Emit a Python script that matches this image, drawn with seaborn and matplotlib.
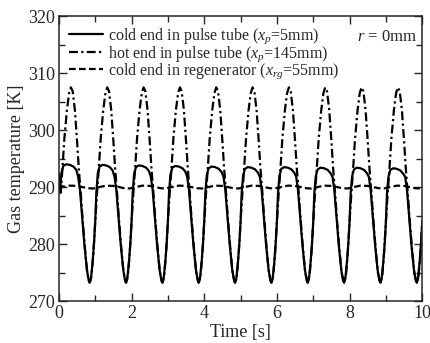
import numpy as np
import pandas as pd
import matplotlib
matplotlib.use("Agg")
import matplotlib.pyplot as plt
import seaborn as sns

# ---- data ----
# one-cycle profiles (phase within each 1 s cycle)
phase_cold = [0.00, 0.03, 0.07, 0.12, 0.20, 0.30, 0.40, 0.48, 0.53, 0.58, 0.63, 0.70, 0.77, 0.82, 0.85, 0.88, 0.93, 0.97]
temp_cold = [284.0, 289.0, 292.5, 293.7, 294.0, 293.9, 293.6, 293.0, 291.8, 289.5, 285.5, 280.0, 275.5, 273.6, 273.2, 273.8, 277.0, 280.5]
cold_peaks = [294.0, 293.9, 293.8, 293.7, 293.6, 293.5, 293.5, 293.4, 293.4, 293.3]

phase_hot = [0.00, 0.05, 0.10, 0.15, 0.22, 0.28, 0.33, 0.38, 0.44, 0.50, 0.55, 0.60, 0.65, 0.72, 0.78, 0.84, 0.90, 0.95]
temp_hot = [284.0, 289.0, 293.5, 298.5, 303.5, 306.5, 307.5, 306.8, 303.5, 298.0, 293.0, 289.0, 284.5, 279.0, 275.0, 273.3, 274.5, 278.5]

phase_reg = [0.00, 0.15, 0.30, 0.50, 0.65, 0.80, 0.95]
temp_reg = [289.85, 290.05, 290.25, 290.2, 290.0, 289.8, 289.75]

start_cold, start_hot, start_reg = 291.0, 292.5, 290.3
n_cycles = 10

labels = ["cold end in pulse tube ($x_p$=5mm)",
          "hot end in pulse tube ($x_p$=145mm)",
          "cold end in regenerator ($x_{rg}$=55mm)"]


def build(phases, temps, start, peaks=None):
    t, y = [], []
    for n in range(n_cycles):
        for p, v in zip(phases, temps):
            if peaks is not None and v >= 292.0:
                v = v + (peaks[n] - 294.0)
            t.append(n + p)
            y.append(v)
    y[0] = start
    t.append(float(n_cycles))
    y.append(temps[0])
    return np.array(t), np.array(y)


tc, yc = build(phase_cold, temp_cold, start_cold, cold_peaks)
th, yh = build(phase_hot, temp_hot, start_hot)
tr, yr = build(phase_reg, temp_reg, start_reg)

df = pd.concat([
    pd.DataFrame({"t": tc, "T": yc, "s": labels[0]}),
    pd.DataFrame({"t": th, "T": yh, "s": labels[1]}),
    pd.DataFrame({"t": tr, "T": yr, "s": labels[2]}),
])

sns.set_style("ticks")
plt.rcParams["font.family"] = ["Liberation Serif", "DejaVu Serif"]
plt.rcParams["mathtext.fontset"] = "custom"
plt.rcParams["mathtext.rm"] = "Liberation Serif"
plt.rcParams["mathtext.it"] = "Liberation Serif:italic"

fig = plt.figure(figsize=(4.30, 3.43), dpi=100)
ax = fig.add_axes([0.137, 0.1224, 0.845, 0.8306])

sns.lineplot(data=df, x="t", y="T", hue="s", style="s",
             palette=["black"] * 3,
             dashes={labels[0]: "", labels[1]: (4, 1.5, 1, 1.5), labels[2]: (3, 1.5)},
             linewidth=1.6, sort=False, estimator=None, ax=ax)

ax.set_xlim(0, 10)
ax.set_ylim(270, 320)
ax.set_xticks([0, 2, 4, 6, 8, 10])
ax.set_xticks([1, 3, 5, 7, 9], minor=True)
ax.set_yticks([270, 280, 290, 300, 310, 320])
ax.set_yticks([275, 285, 295, 305, 315], minor=True)
ax.tick_params(which="both", direction="in", top=True, right=True, labelsize=13, width=1.0, pad=3)
ax.tick_params(which="major", length=6)
ax.tick_params(which="minor", length=4.5)
for sp in ax.spines.values():
    sp.set_linewidth(1.1)
ax.set_xlabel("Time [s]", fontsize=13, labelpad=1)
ax.set_ylabel("Gas temperature [K]", fontsize=13, labelpad=2)

leg = ax.legend(loc="upper left", frameon=False, fontsize=11.5, handlelength=2.1,
                handletextpad=0.3, labelspacing=-0.12, borderaxespad=0.55,
                borderpad=0.1, title=None)
ax.text(0.985, 0.925, "$r$ = 0mm", transform=ax.transAxes, ha="right", va="center", fontsize=12)

fig.savefig("out.png", dpi=100)
